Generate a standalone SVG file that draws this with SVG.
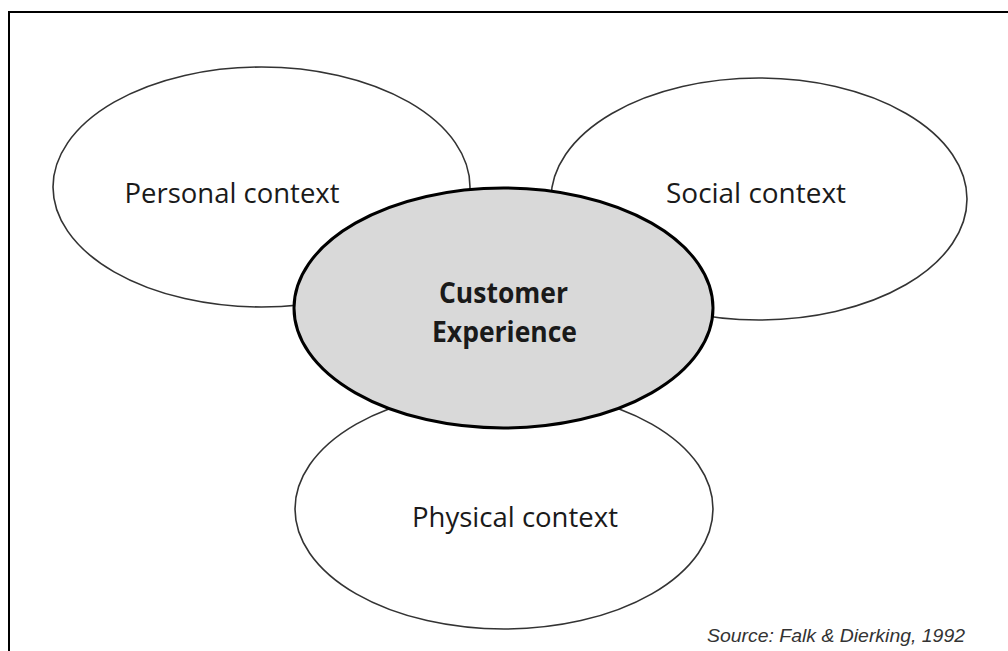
<svg xmlns="http://www.w3.org/2000/svg" width="1008" height="651" viewBox="0 0 1008 651">
  <style>
    .ctx { fill: #ffffff; stroke: #333333; stroke-width: 1.6; }
    .core { fill: #d9d9d9; stroke: #000000; stroke-width: 3; }
    .lbl { font-family: "Open Sans", "Noto Sans", "Liberation Sans", sans-serif; font-size: 27px; fill: #1a1a1a; text-anchor: middle; }
    .lbl-b { font-family: "Open Sans", "Noto Sans", "Liberation Sans", sans-serif; font-size: 28.5px; font-weight: bold; fill: #1a1a1a; text-anchor: middle; }
    .src { font-family: "Liberation Sans", Arial, sans-serif; font-size: 18px; font-style: italic; fill: #333333; }
  </style>
  <rect width="1008" height="651" fill="#ffffff"/>
  <!-- frame: only top and left edges fall inside the canvas -->
  <rect x="9" y="12" width="1010" height="660" fill="none" stroke="#000000" stroke-width="2"/>

  <g id="connectors"></g>

  <g id="personal">
    <ellipse class="ctx" cx="261.5" cy="187" rx="208.5" ry="120"/>
    <text class="lbl" x="232" y="203" textLength="215" lengthAdjust="spacingAndGlyphs">Personal context</text>
  </g>
  <g id="social">
    <ellipse class="ctx" cx="759" cy="199" rx="208" ry="121"/>
    <text class="lbl" x="756" y="203" textLength="180" lengthAdjust="spacingAndGlyphs">Social context</text>
  </g>
  <g id="physical">
    <ellipse class="ctx" cx="504" cy="509" rx="209" ry="120"/>
    <text class="lbl" x="515" y="527" textLength="206" lengthAdjust="spacingAndGlyphs">Physical context</text>
  </g>
  <g id="customer-experience">
    <ellipse class="core" cx="503.5" cy="308" rx="209.5" ry="120"/>
    <text class="lbl-b" x="503.5" y="303" textLength="129" lengthAdjust="spacingAndGlyphs">Customer</text>
    <text class="lbl-b" x="504.5" y="342" textLength="145" lengthAdjust="spacingAndGlyphs">Experience</text>
  </g>

  <text class="src" x="707" y="642" textLength="258" lengthAdjust="spacingAndGlyphs">Source: Falk &amp; Dierking, 1992</text>
</svg>
